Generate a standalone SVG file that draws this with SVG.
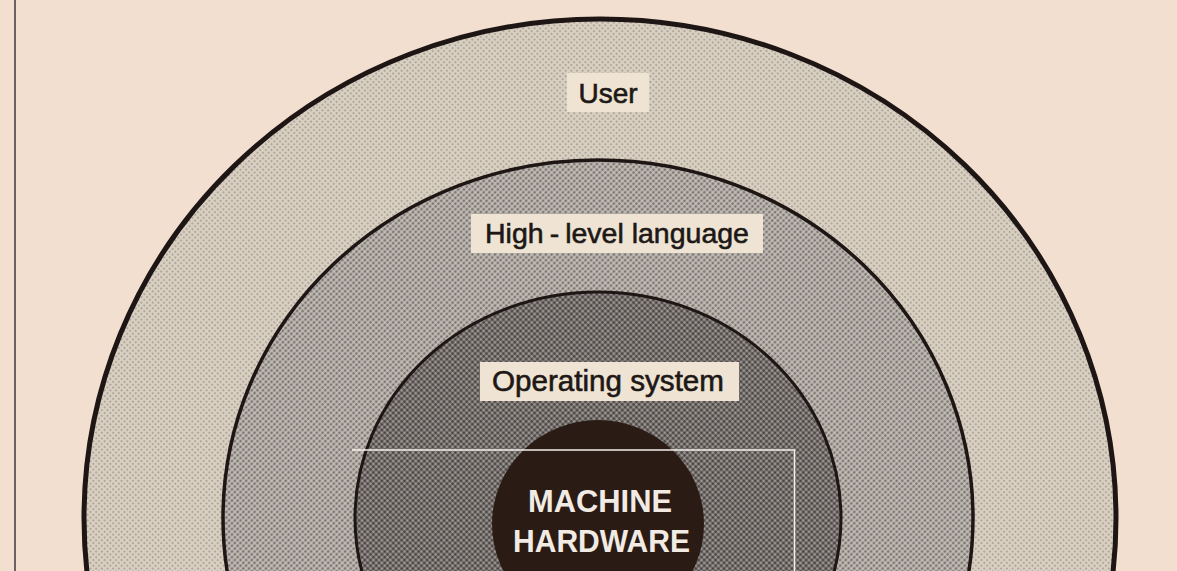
<svg xmlns="http://www.w3.org/2000/svg" width="1177" height="571" viewBox="0 0 1177 571">
  <defs>
    <pattern id="dotsA" width="4" height="4" patternUnits="userSpaceOnUse" patternTransform="rotate(45)">
      <rect width="4" height="4" fill="#dad0c2"/>
      <circle cx="2" cy="2" r="1.1" fill="#a79f94"/>
    </pattern>
    <pattern id="dotsB" width="4" height="4" patternUnits="userSpaceOnUse" patternTransform="rotate(45)">
      <rect width="4" height="4" fill="#c4beb7"/>
      <circle cx="2" cy="2" r="1.4" fill="#7c7773"/>
    </pattern>
    <pattern id="dotsC" width="4" height="4" patternUnits="userSpaceOnUse" patternTransform="rotate(45)">
      <rect width="4" height="4" fill="#a5a09c"/>
      <circle cx="2" cy="2" r="1.75" fill="#4a4644"/>
    </pattern>
    <style>
      .ring { stroke: #1e1614; }
      .lbl { fill: #efe4d4; }
      .txt { font-family: "Liberation Sans", Arial, sans-serif; fill: #1d1816; stroke: #1d1816; stroke-width: 0.6; text-anchor: middle; }
      .hw { font-family: "Liberation Sans", Arial, sans-serif; font-weight: bold; fill: #f1ebe4; text-anchor: middle; }
    </style>
  </defs>
  <rect width="1177" height="571" fill="#f3dfcf"/>
  <line x1="15" y1="0" x2="15" y2="571" stroke="#6a6260" stroke-width="2"/>

  <g id="user">
    <ellipse cx="600" cy="518" rx="516" ry="499" fill="url(#dotsA)" class="ring" stroke-width="5"/>
  </g>
  <g id="high-level-language">
    <ellipse cx="598" cy="518" rx="375" ry="358" fill="url(#dotsB)" class="ring" stroke-width="3.5"/>
  </g>
  <g id="operating-system">
    <ellipse cx="598" cy="518" rx="243" ry="226" fill="url(#dotsC)" class="ring" stroke-width="3"/>
  </g>
  <g id="machine-hardware">
    <ellipse cx="598" cy="524" rx="106" ry="104" fill="#2b1b15"/>
    <text class="hw" x="600" y="512" font-size="32" textLength="144" lengthAdjust="spacingAndGlyphs">MACHINE</text>
    <text class="hw" x="601.5" y="552" font-size="32" textLength="177" lengthAdjust="spacingAndGlyphs">HARDWARE</text>
  </g>

  <g id="user-label">
    <rect class="lbl" x="567" y="73" width="82" height="39"/>
    <text class="txt" x="608" y="103" font-size="28">User</text>
  </g>
  <g id="hll-label">
    <rect class="lbl" x="471" y="214" width="292" height="39"/>
    <text class="txt" x="617" y="243" font-size="28.5">High<tspan dx="6">-</tspan><tspan dx="6">level language</tspan></text>
  </g>
  <g id="os-label">
    <rect class="lbl" x="480" y="362" width="259" height="39"/>
    <text class="txt" x="608" y="391" font-size="29" textLength="232" lengthAdjust="spacingAndGlyphs">Operating system</text>
  </g>

  <g id="connectors"/>

  <g id="frame-lines" fill="none" stroke="#f4f0ea" stroke-width="1.5">
    <polyline points="352,450 794.5,450 794.5,571"/>
  </g>
</svg>
